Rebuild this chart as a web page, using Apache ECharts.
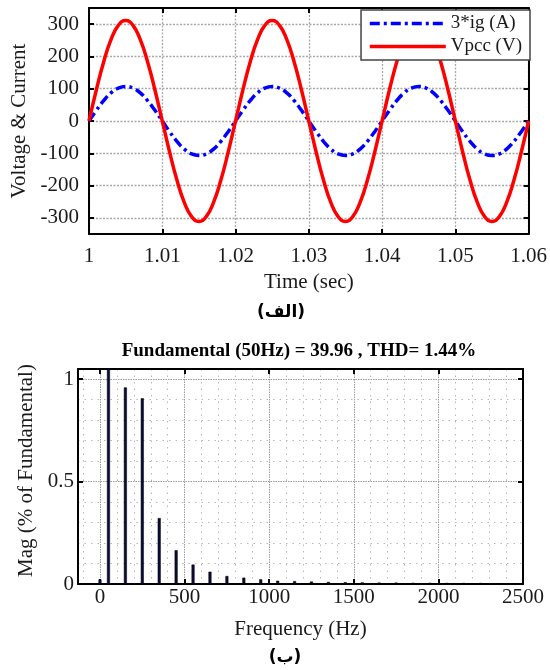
<!DOCTYPE html>
<html lang="en">

<head>
    <meta charset="UTF-8">
    <title>Vpcc / ig and FFT</title>
    <script src="https://cdn.jsdelivr.net/npm/echarts@6.0.0/dist/echarts.min.js"></script>
    <style>
        body { margin: 0; background: #fff; }
    </style>
</head>

<body>
    <div id="main" style="width: 550px;height:670px;"></div>
    <script type="text/javascript">
        // time samples (sec)
        var time = [1.000, 1.001, 1.002, 1.003, 1.004, 1.005, 1.006, 1.007, 1.008, 1.009,
            1.010, 1.011, 1.012, 1.013, 1.014, 1.015, 1.016, 1.017, 1.018, 1.019,
            1.020, 1.021, 1.022, 1.023, 1.024, 1.025, 1.026, 1.027, 1.028, 1.029,
            1.030, 1.031, 1.032, 1.033, 1.034, 1.035, 1.036, 1.037, 1.038, 1.039,
            1.040, 1.041, 1.042, 1.043, 1.044, 1.045, 1.046, 1.047, 1.048, 1.049,
            1.050, 1.051, 1.052, 1.053, 1.054, 1.055, 1.056, 1.057, 1.058, 1.059, 1.060];

        // Vpcc (V)
        var vpcc = [0, 96, 183, 252, 296, 311, 296, 252, 183, 96,
            0, -96, -183, -252, -296, -311, -296, -252, -183, -96,
            0, 96, 183, 252, 296, 311, 296, 252, 183, 96,
            0, -96, -183, -252, -296, -311, -296, -252, -183, -96,
            0, 96, 183, 252, 296, 311, 296, 252, 183, 96,
            0, -96, -183, -252, -296, -311, -296, -252, -183, -96, 0];

        // 3*ig (A)
        var ig3 = [0, 33, 63, 87, 102, 107, 102, 87, 63, 33,
            0, -33, -63, -87, -102, -107, -102, -87, -63, -33,
            0, 33, 63, 87, 102, 107, 102, 87, 63, 33,
            0, -33, -63, -87, -102, -107, -102, -87, -63, -33,
            0, 33, 63, 87, 102, 107, 102, 87, 63, 33,
            0, -33, -63, -87, -102, -107, -102, -87, -63, -33, 0];

        // FFT (fundamental = 100, clipped by the axis)
        var harmFreq = [0, 50, 150, 250, 350, 450, 550, 650, 750, 850, 950, 1050, 1150,
            1250, 1350, 1450, 1550, 1650, 1750, 1850, 1950, 2050, 2150, 2250, 2350, 2450];
        var harmMag = [0.022, 100, 0.96, 0.907, 0.322, 0.165, 0.095, 0.06, 0.039, 0.031, 0.023, 0.016, 0.014,
            0.012, 0.010, 0.009, 0.008, 0.007, 0.007, 0.006, 0.006, 0.005, 0.005, 0.005, 0.004, 0.004];

        // tick labels
        var voltTicks = [-300, -200, -100, 0, 100, 200, 300];
        var freqTicks = [0, 500, 1000, 1500, 2000, 2500];
        var freqMinor = [-100, 100, 200, 300, 400, 600, 700, 800, 900, 1100, 1200, 1300, 1400,
            1600, 1700, 1800, 1900, 2100, 2200, 2300, 2400];
        var magTicks = [0, 0.5, 1];
        var magMinor = [0.1, 0.2, 0.3, 0.4, 0.6, 0.7, 0.8, 0.9];

        var FONT = 'Liberation Serif';

        var myChart = echarts.init(document.getElementById('main'));

        var tickStyle = { show: true, inside: true, length: 5, lineStyle: { color: '#000', width: 2 } };
        var lineAxis = { onZero: false, lineStyle: { color: '#000', width: 2 } };
        var labelStyle = {
            fontFamily: FONT, fontSize: 21, color: '#1a1a1a',
            formatter: function (v) { return String(v); }
        };
        var gridDot = { show: true, lineStyle: { color: '#a8a8a8', width: 1.3, type: [2, 1.5] } };
        var nameStyle = { fontFamily: FONT, fontSize: 21, color: '#1a1a1a' };

        option = {
            backgroundColor: '#fff',
            animation: false,
            grid: [
                { left: 89, right: 17, top: 8, height: 226 },
                { left: 78, right: 27, top: 369, height: 215 }
            ],
            legend: {
                data: ['3*ig (A)', 'Vpcc (V)'],
                orient: 'vertical',
                right: 20,
                top: 10,
                itemWidth: 76,
                itemHeight: 14,
                itemGap: 4,
                padding: [4, 8, 4, 7],
                borderColor: '#444',
                borderWidth: 1.5,
                borderRadius: 0,
                backgroundColor: '#fff',
                itemStyle: { opacity: 0 },
                lineStyle: { width: 3.5 },
                textStyle: { fontFamily: FONT, fontSize: 19, color: '#1a1a1a' }
            },
            xAxis: [
                {
                    gridIndex: 0, type: 'value', position: 'bottom',
                    min: 1, max: 1.06, interval: 0.01,
                    axisLine: lineAxis, axisTick: tickStyle,
                    axisLabel: Object.assign({ margin: 12 }, labelStyle),
                    splitLine: gridDot,
                    name: 'Time (sec)', nameLocation: 'middle', nameGap: 38,
                    nameTextStyle: nameStyle
                },
                {
                    gridIndex: 0, type: 'value', position: 'top',
                    min: 1, max: 1.06, interval: 0.01,
                    axisLine: lineAxis, axisTick: tickStyle,
                    axisLabel: { show: false }, splitLine: { show: false }
                },
                {
                    gridIndex: 1, type: 'value', position: 'bottom',
                    min: -130, max: 2500,
                    axisLine: lineAxis,
                    axisTick: Object.assign({ customValues: freqTicks }, tickStyle),
                    axisLabel: Object.assign({ customValues: freqTicks, margin: 3 }, labelStyle),
                    splitLine: { show: true, lineStyle: { color: '#9a9a9a', width: 1, type: [1.5, 1] } },
                    name: 'Frequency (Hz)', nameLocation: 'middle', nameGap: 35,
                    nameTextStyle: nameStyle
                },
                {
                    gridIndex: 1, type: 'value', position: 'top',
                    min: -130, max: 2500,
                    axisLine: lineAxis,
                    axisTick: Object.assign({ customValues: freqTicks }, tickStyle),
                    axisLabel: { show: false }, splitLine: { show: false }
                },
                {
                    // minor grid only
                    gridIndex: 1, type: 'value', position: 'bottom',
                    min: -130, max: 2500,
                    axisLine: { show: false },
                    axisTick: { show: false, customValues: freqMinor },
                    axisLabel: { show: false },
                    splitLine: { show: true, lineStyle: { color: '#b8b8b8', width: 1, type: [1.5, 5] } }
                }
            ],
            yAxis: [
                {
                    gridIndex: 0, type: 'value', position: 'left',
                    min: -350, max: 350,
                    axisLine: lineAxis,
                    axisTick: Object.assign({ customValues: voltTicks }, tickStyle),
                    axisLabel: Object.assign({ customValues: voltTicks, margin: 10 }, labelStyle),
                    splitLine: gridDot,
                    name: 'Voltage & Current', nameLocation: 'middle', nameGap: 57,
                    nameTextStyle: nameStyle
                },
                {
                    gridIndex: 0, type: 'value', position: 'right',
                    min: -350, max: 350,
                    axisLine: lineAxis,
                    axisTick: Object.assign({ customValues: voltTicks }, tickStyle),
                    axisLabel: { show: false }, splitLine: { show: false }
                },
                {
                    gridIndex: 1, type: 'value', position: 'left',
                    min: 0, max: 1.05,
                    axisLine: lineAxis,
                    axisTick: Object.assign({ customValues: magTicks }, tickStyle),
                    axisLabel: Object.assign({ customValues: magTicks, margin: 4 }, labelStyle),
                    splitLine: { show: true, lineStyle: { color: '#9a9a9a', width: 1, type: [1.5, 1] } },
                    name: 'Mag (% of Fundamental)', nameLocation: 'middle', nameGap: 36,
                    nameTextStyle: Object.assign({ padding: [0, 0, 0, 12] }, nameStyle)
                },
                {
                    gridIndex: 1, type: 'value', position: 'right',
                    min: 0, max: 1.05,
                    axisLine: lineAxis,
                    axisTick: Object.assign({ customValues: magTicks }, tickStyle),
                    axisLabel: { show: false }, splitLine: { show: false }
                },
                {
                    gridIndex: 1, type: 'value', position: 'left',
                    min: 0, max: 1.05,
                    axisLine: { show: false },
                    axisTick: { show: false, customValues: magMinor },
                    axisLabel: { show: false },
                    splitLine: { show: true, lineStyle: { color: '#b8b8b8', width: 1, type: [1.5, 5] } }
                }
            ],
            series: [
                {
                    name: '3*ig (A)', type: 'line', xAxisIndex: 0, yAxisIndex: 0,
                    data: time.map(function (t, i) { return [t, ig3[i]]; }),
                    smooth: true, symbol: 'none',
                    lineStyle: { color: '#0000ff', width: 3.5, type: [10, 4, 3, 4] },
                    itemStyle: { color: '#0000ff' }
                },
                {
                    name: 'Vpcc (V)', type: 'line', xAxisIndex: 0, yAxisIndex: 0,
                    data: time.map(function (t, i) { return [t, vpcc[i]]; }),
                    smooth: true, symbol: 'none',
                    lineStyle: { color: '#ff0000', width: 3.5 },
                    itemStyle: { color: '#ff0000' }
                },
                {
                    name: 'FFT', type: 'bar', xAxisIndex: 2, yAxisIndex: 2,
                    data: harmFreq.map(function (f, i) { return [f, harmMag[i]]; }),
                    barWidth: 3, clip: true,
                    itemStyle: { color: '#0b0b3a', borderColor: '#000', borderWidth: 0.5 }
                }
            ],
            graphic: [
                {
                    type: 'text', x: 299, y: 351,
                    style: { text: 'Fundamental (50Hz) = 39.96 , THD= 1.44%', font: 'bold 19px "Liberation Serif"', fill: '#000', align: 'center', verticalAlign: 'middle' }
                },
                {
                    type: 'text', x: 281, y: 313,
                    style: { text: '(الف)', font: 'bold 17px "DejaVu Sans"', fill: '#000', align: 'center', verticalAlign: 'middle' }
                },
                {
                    type: 'text', x: 285, y: 658,
                    style: { text: '(ب)', font: 'bold 17px "DejaVu Sans"', fill: '#000', align: 'center', verticalAlign: 'middle' }
                }
            ]
        };

        myChart.setOption(option);
    </script>
</body>

</html>
